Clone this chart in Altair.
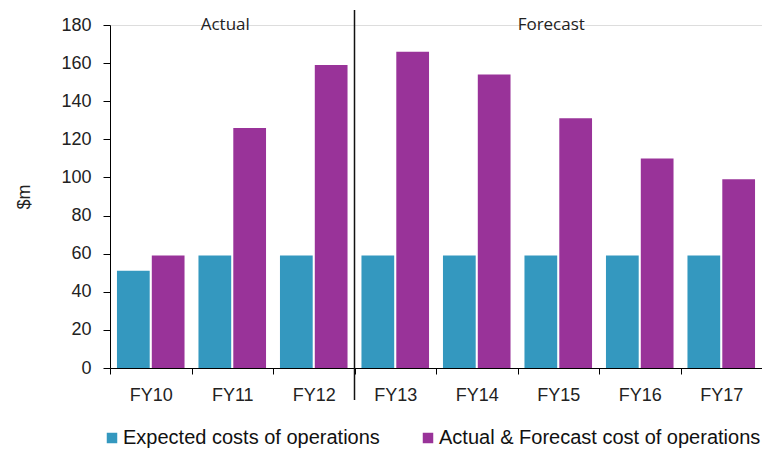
import altair as alt
import pandas as pd

fy = ["FY10", "FY11", "FY12", "FY13", "FY14", "FY15", "FY16", "FY17"]
expected = [51, 59, 59, 59, 59, 59, 59, 59]
actual = [59, 126, 159, 166, 154, 131, 110, 99]
series = ["Expected costs of operations", "Actual & Forecast cost of operations"]
colors = ["#3498bf", "#993399"]
y_ticks = [0, 20, 40, 60, 80, 100, 120, 140, 160, 180]

rows = []
for i, f in enumerate(fy):
    rows.append({"fy": f, "series": series[0], "value": expected[i]})
    rows.append({"fy": f, "series": series[1], "value": actual[i]})
df = pd.DataFrame(rows)

ann = pd.DataFrame({"fy": ["FY11", "FY15"], "label": ["Actual", "Forecast"], "value": [180, 180]})
div = pd.DataFrame({"fy": ["FY13"]})

xscale = alt.Scale(domain=fy, paddingInner=0, paddingOuter=0)
yscale = alt.Scale(domain=[0, 180], nice=False)

xaxis = alt.Axis(labelAngle=0, tickBand="extent", domainColor="#000", tickColor="#000",
                 tickSize=6, labelPadding=12, labelFontSize=18, labelColor="#222",
                 labelFont="Liberation Sans", grid=False, title=None)
yaxis = alt.Axis(values=y_ticks, grid=False, domainColor="#000", labelOverlap=False,
                 tickColor="#000", tickSize=7, labelPadding=12, labelFontSize=18,
                 labelColor="#222", labelFont="Liberation Sans", titleFontSize=18,
                 titleFontWeight="normal", titleColor="#222", titlePadding=27,
                 titleFont="Liberation Sans", title="$m")

bars = alt.Chart(df).mark_bar().encode(
    x=alt.X("fy:N", scale=xscale, sort=fy, title=None, axis=xaxis),
    xOffset=alt.XOffset("series:N", sort=series,
                        scale=alt.Scale(domain=series, paddingInner=0.06, paddingOuter=0.2)),
    y=alt.Y("value:Q", scale=yscale, title="$m", axis=yaxis),
    color=alt.Color("series:N", sort=series, scale=alt.Scale(domain=series, range=colors),
                    legend=alt.Legend(title=None, orient="none", legendX=-8, legendY=403,
                                      direction="horizontal", symbolType="square", symbolSize=110,
                                      labelFontSize=20, labelFont="Liberation Sans",
                                      labelColor="#111", columnPadding=38, labelOffset=1,
                                      labelLimit=500, symbolOpacity=1)),
)

text = alt.Chart(ann).mark_text(font="Open Sans", fontSize=17, color="#222", baseline="middle",
                                dx=-7).encode(
    x=alt.X("fy:N", scale=xscale, sort=fy, title=None, axis=xaxis),
    y=alt.Y("value:Q", scale=yscale, title="$m", axis=yaxis),
    text="label:N",
)

rule = alt.Chart(div).mark_rule(color="#111", strokeWidth=1.5).encode(
    x=alt.X("fy:N", scale=xscale, sort=fy, bandPosition=0, title=None, axis=xaxis),
    y=alt.value(-15),
    y2=alt.value(375),
)

chart = alt.layer(bars, rule, text).properties(
    width=652, height=343,
    autosize=alt.AutoSizeParams(type="none"),
    padding={"left": 102, "top": 17, "right": 0, "bottom": 80},
).configure_view(strokeWidth=0).configure(background="white")

chart.save("out.html", embed_options={"renderer": "svg", "actions": False})
